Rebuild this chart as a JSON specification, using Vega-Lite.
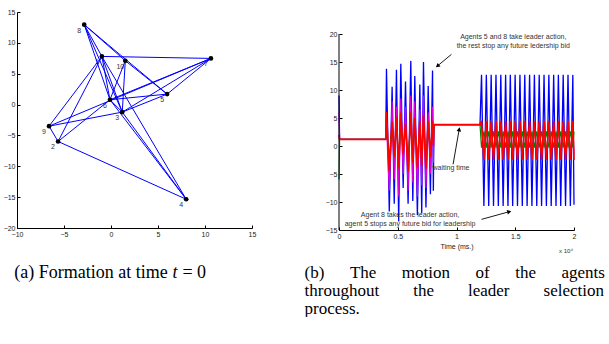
{
  "$schema": "https://vega.github.io/schema/vega-lite/v6.json",
  "padding": {"left": 3, "top": 8, "right": 0, "bottom": 0},
  "background": "white",
  "config": {
    "view": {"stroke": null},
    "axis": {
      "grid": false,
      "labelFont": "Liberation Sans",
      "labelFontSize": 7,
      "labelColor": "#222",
      "labelOverlap": false,
      "labelBound": false,
      "labelSeparation": 0,
      "domainColor": "#000",
      "tickColor": "#000",
      "tickSize": -3,
      "labelPadding": 5,
      "titleFont": "Liberation Sans",
      "titleFontSize": 7,
      "titleFontWeight": "normal",
      "titleColor": "#222"
    },
    "axisY": {"labelOverlap": false}
  },
  "datasets": {
    "nodes": [
      {"id": 1, "x": -0.97, "y": 7.8},
      {"id": 2, "x": -5.63, "y": -5.98},
      {"id": 3, "x": 1.2, "y": -1.22},
      {"id": 4, "x": 8.0, "y": -15.34},
      {"id": 5, "x": 5.97, "y": 1.7},
      {"id": 6, "x": -0.11, "y": 0.78},
      {"id": 7, "x": 10.63, "y": 7.48},
      {"id": 8, "x": -2.85, "y": 12.95},
      {"id": 9, "x": -6.59, "y": -3.5},
      {"id": 10, "x": 1.52, "y": 7.1}
    ],
    "edges": [
      {"s": 8, "t": 10}, {"s": 8, "t": 5}, {"s": 10, "t": 5}, {"s": 8, "t": 1}, {"s": 8, "t": 6}, {"s": 8, "t": 3},
      {"s": 1, "t": 7}, {"s": 1, "t": 9}, {"s": 1, "t": 2}, {"s": 1, "t": 6}, {"s": 1, "t": 3}, {"s": 1, "t": 4},
      {"s": 10, "t": 6}, {"s": 10, "t": 3},
      {"s": 7, "t": 6}, {"s": 7, "t": 3}, {"s": 7, "t": 5}, {"s": 7, "t": 9},
      {"s": 9, "t": 3}, {"s": 9, "t": 2}, {"s": 2, "t": 6}, {"s": 2, "t": 4},
      {"s": 6, "t": 5}, {"s": 3, "t": 5}, {"s": 6, "t": 4}, {"s": 3, "t": 4}, {"s": 6, "t": 3}
    ],
    "ts": [
      {"t": 0, "b": 9, "m": 6, "g": -6, "r": 2},
      {"t": 0.005, "b": 1.2, "m": 1.2, "g": 1.2, "r": 1.2},
      {"t": 0.398, "b": 1.2, "m": 1.2, "g": 1.2, "r": 1.2},
      {"t": 0.404, "b": 13.8, "m": 4, "g": 3, "r": 6.1},
      {"t": 0.428, "b": -11.7, "m": -8, "g": -2, "r": -4.5},
      {"t": 0.452, "b": 10.6, "m": 8, "g": 4, "r": 4.3},
      {"t": 0.470, "b": -10.3, "m": -6, "g": -1, "r": -2},
      {"t": 0.489, "b": 13.6, "m": 7, "g": 3.5, "r": 5.2},
      {"t": 0.508, "b": -13.5, "m": -9, "g": -2.5, "r": -4},
      {"t": 0.526, "b": 14.7, "m": 8.5, "g": 4, "r": 6},
      {"t": 0.546, "b": -7.5, "m": -5, "g": -0.5, "r": -1.5},
      {"t": 0.566, "b": 11.5, "m": 7, "g": 3, "r": 4},
      {"t": 0.588, "b": -10.3, "m": -8, "g": -2, "r": -4.5},
      {"t": 0.611, "b": 15.2, "m": 9, "g": 4, "r": 6},
      {"t": 0.628, "b": -9.8, "m": -6.5, "g": -1.5, "r": -3},
      {"t": 0.645, "b": 12.5, "m": 8, "g": 3.5, "r": 5},
      {"t": 0.667, "b": -12.3, "m": -9, "g": -2, "r": -4},
      {"t": 0.688, "b": 11.0, "m": 6.5, "g": 3, "r": 4.5},
      {"t": 0.704, "b": -12.0, "m": -7, "g": -1.5, "r": -3.5},
      {"t": 0.719, "b": 15.0, "m": 9, "g": 4, "r": 5.5},
      {"t": 0.740, "b": -11, "m": -7.5, "g": -2, "r": -4},
      {"t": 0.759, "b": 10.7, "m": 6, "g": 3, "r": 4.5},
      {"t": 0.778, "b": -8.6, "m": -5, "g": -1, "r": -2},
      {"t": 0.796, "b": 13.5, "m": 7, "g": 3.5, "r": 4.5},
      {"t": 0.803, "b": -8, "m": -3, "g": 1, "r": 0},
      {"t": 0.808, "b": 3.8, "m": 3.8, "g": 3.8, "r": 3.8},
      {"t": 1.2, "b": 3.8, "m": 3.8, "g": 3.8, "r": 3.8},
      {"t": 1.213, "b": 12.7, "m": 3.5, "g": -0.3, "r": 4.5},
      {"t": 1.233, "b": -10.7, "m": -1.5, "g": 2.6, "r": -2.5},
      {"t": 1.254, "b": 12.7, "m": 3.5, "g": -0.3, "r": 4.5},
      {"t": 1.274, "b": -10.7, "m": -1.5, "g": 2.6, "r": -2.5},
      {"t": 1.295, "b": 12.7, "m": 3.5, "g": -0.3, "r": 4.5},
      {"t": 1.315, "b": -10.7, "m": -1.5, "g": 2.6, "r": -2.5},
      {"t": 1.336, "b": 12.7, "m": 3.5, "g": -0.3, "r": 4.5},
      {"t": 1.356, "b": -10.7, "m": -1.5, "g": 2.6, "r": -2.5},
      {"t": 1.377, "b": 12.7, "m": 3.5, "g": -0.3, "r": 4.5},
      {"t": 1.397, "b": -10.7, "m": -1.5, "g": 2.6, "r": -2.5},
      {"t": 1.418, "b": 12.7, "m": 3.5, "g": -0.3, "r": 4.5},
      {"t": 1.438, "b": -10.7, "m": -1.5, "g": 2.6, "r": -2.5},
      {"t": 1.458, "b": 12.7, "m": 3.5, "g": -0.3, "r": 4.5},
      {"t": 1.478, "b": -10.7, "m": -1.5, "g": 2.6, "r": -2.5},
      {"t": 1.499, "b": 12.7, "m": 3.5, "g": -0.3, "r": 4.5},
      {"t": 1.519, "b": -10.7, "m": -1.5, "g": 2.6, "r": -2.5},
      {"t": 1.540, "b": 12.7, "m": 3.5, "g": -0.3, "r": 4.5},
      {"t": 1.560, "b": -10.7, "m": -1.5, "g": 2.6, "r": -2.5},
      {"t": 1.581, "b": 12.7, "m": 3.5, "g": -0.3, "r": 4.5},
      {"t": 1.601, "b": -10.7, "m": -1.5, "g": 2.6, "r": -2.5},
      {"t": 1.622, "b": 12.7, "m": 3.5, "g": -0.3, "r": 4.5},
      {"t": 1.642, "b": -10.7, "m": -1.5, "g": 2.6, "r": -2.5},
      {"t": 1.663, "b": 12.7, "m": 3.5, "g": -0.3, "r": 4.5},
      {"t": 1.683, "b": -10.7, "m": -1.5, "g": 2.6, "r": -2.5},
      {"t": 1.704, "b": 12.7, "m": 3.5, "g": -0.3, "r": 4.5},
      {"t": 1.724, "b": -10.7, "m": -1.5, "g": 2.6, "r": -2.5},
      {"t": 1.745, "b": 12.7, "m": 3.5, "g": -0.3, "r": 4.5},
      {"t": 1.765, "b": -10.7, "m": -1.5, "g": 2.6, "r": -2.5},
      {"t": 1.786, "b": 12.7, "m": 3.5, "g": -0.3, "r": 4.5},
      {"t": 1.806, "b": -10.7, "m": -1.5, "g": 2.6, "r": -2.5},
      {"t": 1.827, "b": 12.7, "m": 3.5, "g": -0.3, "r": 4.5},
      {"t": 1.847, "b": -10.7, "m": -1.5, "g": 2.6, "r": -2.5},
      {"t": 1.867, "b": 12.7, "m": 3.5, "g": -0.3, "r": 4.5},
      {"t": 1.887, "b": -10.7, "m": -1.5, "g": 2.6, "r": -2.5},
      {"t": 1.908, "b": 12.7, "m": 3.5, "g": -0.3, "r": 4.5},
      {"t": 1.928, "b": -10.7, "m": -1.5, "g": 2.6, "r": -2.5},
      {"t": 1.949, "b": 12.7, "m": 3.5, "g": -0.3, "r": 4.5},
      {"t": 1.969, "b": -10.7, "m": -1.5, "g": 2.6, "r": -2.5},
      {"t": 1.990, "b": 12.7, "m": 3.5, "g": -0.3, "r": 4.5},
      {"t": 2.0, "b": -10.5, "m": -1.5, "g": 2.6, "r": -2.5}
    ]
  },
  "spacing": 87,
  "bounds": "flush",
  "hconcat": [
    {
      "width": 235,
      "height": 216,
      "layer": [
        {
          "data": {"name": "nodes"},
          "mark": {"type": "text", "font": "Liberation Sans", "fontSize": 7, "color": "#333", "dx": -5, "dy": 6, "align": "center", "baseline": "middle"},
          "encoding": {
            "x": {"field": "x", "type": "quantitative", "scale": {"domain": [-10, 15], "nice": false}, "axis": {"values": [-10, -5, 0, 5, 10, 15], "title": null, "labelFlush": false}},
            "y": {"field": "y", "type": "quantitative", "scale": {"domain": [-20, 15], "nice": false}, "axis": {"tickCount": 7, "title": null, "labelOverlap": false}},
            "text": {"field": "id", "type": "nominal"}
          }
        },
        {
          "data": {"name": "edges"},
          "transform": [
            {"lookup": "s", "from": {"data": {"name": "nodes"}, "key": "id", "fields": ["x", "y"]}, "as": ["sx", "sy"]},
            {"lookup": "t", "from": {"data": {"name": "nodes"}, "key": "id", "fields": ["x", "y"]}, "as": ["tx", "ty"]}
          ],
          "mark": {"type": "rule", "color": "#0000ff", "strokeWidth": 1},
          "encoding": {
            "x": {"field": "sx", "type": "quantitative", "title": null},
            "y": {"field": "sy", "type": "quantitative", "title": null},
            "x2": {"field": "tx"},
            "y2": {"field": "ty"}
          }
        },
        {
          "data": {"name": "nodes"},
          "mark": {"type": "point", "filled": true, "color": "#000", "size": 22, "opacity": 1},
          "encoding": {
            "x": {"field": "x", "type": "quantitative", "title": null},
            "y": {"field": "y", "type": "quantitative", "title": null}
          }
        },
        {
          "data": {"values": [{}]},
          "mark": {"type": "text", "font": "Liberation Serif", "fontSize": 18, "color": "#000", "align": "left", "baseline": "alphabetic", "text": "(a) Formation at time"},
          "encoding": {
            "x": {"datum": -10.3, "type": "quantitative"},
            "y": {"datum": -28.1, "type": "quantitative"}
          }
        },
        {
          "data": {"values": [{}]},
          "mark": {"type": "text", "font": "Liberation Serif", "fontSize": 18, "fontStyle": "italic", "color": "#000", "align": "left", "baseline": "alphabetic", "text": "t"},
          "encoding": {
            "x": {"datum": 6.55, "type": "quantitative"},
            "y": {"datum": -28.1, "type": "quantitative"}
          }
        },
        {
          "data": {"values": [{}]},
          "mark": {"type": "text", "font": "Liberation Serif", "fontSize": 18, "color": "#000", "align": "left", "baseline": "alphabetic", "text": "= 0"},
          "encoding": {
            "x": {"datum": 7.6, "type": "quantitative"},
            "y": {"datum": -28.1, "type": "quantitative"}
          }
        }
      ]
    },
    {
      "width": 235,
      "height": 218,
      "layer": [
        {
          "data": {"name": "ts"},
          "mark": {"type": "line", "color": "#0000ff", "strokeWidth": 1.3},
          "encoding": {
            "x": {"field": "t", "type": "quantitative", "scale": {"domain": [0, 2], "nice": false}, "axis": {"values": [0, 0.5, 1, 1.5, 2], "format": "~g", "title": "Time (ms.)", "titlePadding": 3, "labelFlush": false}},
            "y": {"field": "b", "type": "quantitative", "title": null, "scale": {"domain": [-15, 23.93], "nice": false}, "axis": {"tickCount": 7, "domain": false, "title": null, "labelOverlap": false}}
          }
        },
        {
          "data": {"name": "ts"},
          "mark": {"type": "line", "color": "#dd00dd", "strokeWidth": 1.2},
          "encoding": {
            "x": {"field": "t", "type": "quantitative", "title": "Time (ms.)"},
            "y": {"field": "m", "type": "quantitative", "title": null}
          }
        },
        {
          "data": {"name": "ts"},
          "mark": {"type": "line", "color": "#008000", "strokeWidth": 1.2},
          "encoding": {
            "x": {"field": "t", "type": "quantitative", "title": "Time (ms.)"},
            "y": {"field": "g", "type": "quantitative", "title": null}
          }
        },
        {
          "data": {"name": "ts"},
          "mark": {"type": "line", "color": "#ff0000", "strokeWidth": 1.7},
          "encoding": {
            "x": {"field": "t", "type": "quantitative", "title": "Time (ms.)"},
            "y": {"field": "r", "type": "quantitative", "title": null}
          }
        },
        {
          "data": {"values": [{}]},
          "mark": {"type": "rule", "color": "#000", "strokeWidth": 1},
          "encoding": {
            "x": {"datum": 0, "type": "quantitative"},
            "y": {"datum": -15, "type": "quantitative"},
            "y2": {"datum": 20}
          }
        },
        {
          "data": {"values": [{}]},
          "mark": {"type": "text", "font": "Liberation Sans", "fontSize": 7, "color": "#333", "align": "center", "baseline": "alphabetic", "lineHeight": 8.4, "text": ["Agents 5 and 8 take leader action,", "the rest stop any future ledership bid"]},
          "encoding": {"x": {"datum": 1.483, "type": "quantitative"}, "y": {"datum": 19.02, "type": "quantitative"}}
        },
        {
          "data": {"values": [{}]},
          "mark": {"type": "text", "font": "Liberation Sans", "fontSize": 7, "color": "#333", "align": "left", "baseline": "alphabetic", "text": "waiting time"},
          "encoding": {"x": {"datum": 0.796, "type": "quantitative"}, "y": {"datum": -4.2, "type": "quantitative"}}
        },
        {
          "data": {"values": [{}]},
          "mark": {"type": "text", "font": "Liberation Sans", "fontSize": 7, "color": "#333", "align": "center", "baseline": "alphabetic", "lineHeight": 9.3, "text": ["Agent 8 takes the leader action,", "agent 5 stops any future bid for leadership"]},
          "encoding": {"x": {"datum": 0.605, "type": "quantitative"}, "y": {"datum": -12.64, "type": "quantitative"}}
        },
        {
          "data": {"values": [{}]},
          "mark": {"type": "rule", "color": "#000", "strokeWidth": 0.9},
          "encoding": {"x": {"datum": 0.957, "type": "quantitative"}, "y": {"datum": 16.37, "type": "quantitative"}, "x2": {"datum": 0.838}, "y2": {"datum": 14.29}}
        },
        {
          "data": {"values": [{}]},
          "mark": {"type": "point", "shape": "triangle-up", "filled": true, "color": "#000", "opacity": 1, "size": 22, "angle": 230},
          "encoding": {"x": {"datum": 0.838, "type": "quantitative"}, "y": {"datum": 14.29, "type": "quantitative"}}
        },
        {
          "data": {"values": [{}]},
          "mark": {"type": "rule", "color": "#000", "strokeWidth": 0.9},
          "encoding": {"x": {"datum": 0.971, "type": "quantitative"}, "y": {"datum": -3.27, "type": "quantitative"}, "x2": {"datum": 1.023}, "y2": {"datum": 2.98}}
        },
        {
          "data": {"values": [{}]},
          "mark": {"type": "point", "shape": "triangle-up", "filled": true, "color": "#000", "opacity": 1, "size": 22, "angle": 10},
          "encoding": {"x": {"datum": 1.023, "type": "quantitative"}, "y": {"datum": 2.98, "type": "quantitative"}}
        },
        {
          "data": {"values": [{}]},
          "mark": {"type": "rule", "color": "#000", "strokeWidth": 0.9},
          "encoding": {"x": {"datum": 1.213, "type": "quantitative"}, "y": {"datum": -13.1, "type": "quantitative"}, "x2": {"datum": 1.449}, "y2": {"datum": -11.73}}
        },
        {
          "data": {"values": [{}]},
          "mark": {"type": "point", "shape": "triangle-up", "filled": true, "color": "#000", "opacity": 1, "size": 22, "angle": 75},
          "encoding": {"x": {"datum": 1.449, "type": "quantitative"}, "y": {"datum": -11.73, "type": "quantitative"}}
        },
        {
          "data": {"values": [{}]},
          "mark": {"type": "text", "font": "Liberation Sans", "fontSize": 6, "color": "#333", "align": "center", "baseline": "alphabetic", "text": "x 10⁴"},
          "encoding": {"x": {"datum": 1.932, "type": "quantitative"}, "y": {"datum": -19.1, "type": "quantitative"}}
        },
        {
          "data": {"values": [{}]},
          "mark": {"type": "text", "font": "Liberation Serif", "fontSize": 17, "color": "#000", "align": "left", "baseline": "alphabetic", "lineHeight": 18, "text": ["(b)\u00a0\u00a0\u00a0\u00a0\u00a0\u00a0The\u00a0\u00a0\u00a0\u00a0\u00a0\u00a0motion\u00a0\u00a0\u00a0\u00a0\u00a0\u00a0of\u00a0\u00a0\u00a0\u00a0\u00a0\u00a0the\u00a0\u00a0\u00a0\u00a0\u00a0\u00a0agents", "throughout\u00a0\u00a0\u00a0\u00a0\u00a0\u00a0\u00a0\u00a0the\u00a0\u00a0\u00a0\u00a0\u00a0\u00a0\u00a0\u00a0leader\u00a0\u00a0\u00a0\u00a0\u00a0\u00a0\u00a0\u00a0selection", "process."]},
          "encoding": {"x": {"datum": -0.2926, "type": "quantitative"}, "y": {"datum": -23.57, "type": "quantitative"}}
        }
      ]
    }
  ]
}
